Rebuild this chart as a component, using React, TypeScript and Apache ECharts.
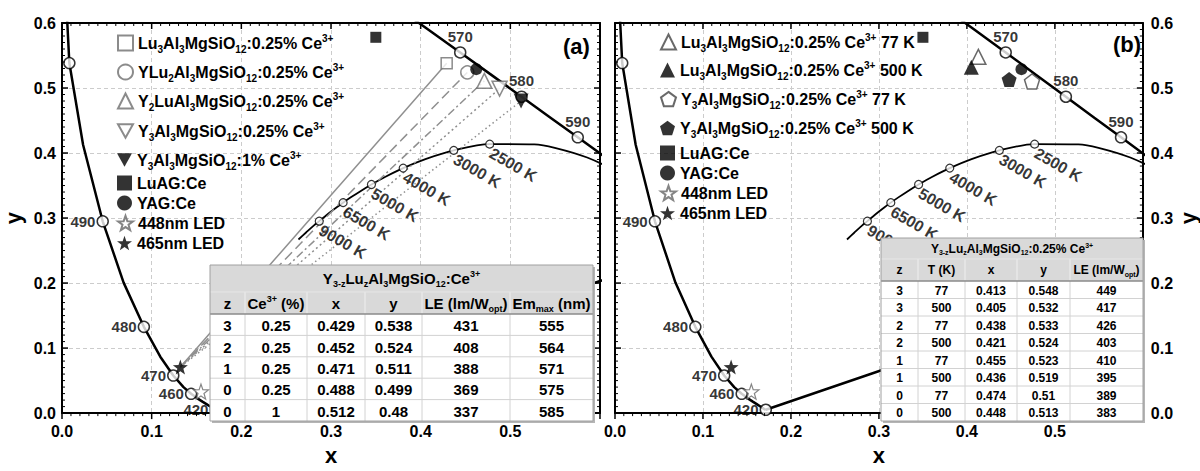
import React, { useEffect, useRef } from "react";
import * as echarts from "echarts";

const FONT = '"Liberation Sans", Arial, Helvetica, sans-serif';

// CIE 1931 spectral locus
const locusWavelength = [420,425,430,435,440,445,450,455,460,465,470,475,480,485,490,495,500,505,510,515,520,525,530,535,540,545,550,555,560,565,570,575,580,585,590,595,600,610,620,700];
const locusX = [0.1714,0.1703,0.1689,0.1669,0.1644,0.1611,0.1566,0.1510,0.1440,0.1355,0.1241,0.1096,0.0913,0.0687,0.0454,0.0235,0.0082,0.0039,0.0139,0.0389,0.0743,0.1142,0.1547,0.1929,0.2296,0.2658,0.3016,0.3373,0.3731,0.4087,0.4441,0.4788,0.5125,0.5448,0.5752,0.6029,0.6270,0.6658,0.6915,0.7347];
const locusY = [0.0051,0.0058,0.0069,0.0086,0.0109,0.0138,0.0177,0.0227,0.0297,0.0399,0.0578,0.0868,0.1327,0.2007,0.2950,0.4127,0.5384,0.6548,0.7502,0.8120,0.8338,0.8262,0.8059,0.7816,0.7543,0.7243,0.6923,0.6589,0.6245,0.5896,0.5547,0.5202,0.4866,0.4544,0.4242,0.3965,0.3725,0.3340,0.3083,0.2653];
const markLeftWl = [420, 460, 470, 480, 490];
const markPlainWl = [500];
const markTopWl = [570, 580, 590];

// Planckian locus
const planckT = [15000,12000,10000,9000,8000,7000,6500,6000,5500,5000,4500,4000,3500,3000,2500,2000,1800,1500,1200,1000];
const planckX = [0.2637,0.2719,0.2807,0.2869,0.2952,0.3064,0.3135,0.3221,0.3324,0.3451,0.3608,0.3805,0.4053,0.4369,0.4770,0.5267,0.5496,0.5857,0.6251,0.6528];
const planckY = [0.2670,0.2774,0.2884,0.2952,0.3048,0.3166,0.3237,0.3318,0.3410,0.3516,0.3636,0.3768,0.3907,0.4041,0.4137,0.4133,0.4081,0.3931,0.3674,0.3444];
const planckLabeled = [9000, 6500, 5000, 4000, 3000, 2500];

// Table (a)
const tableA_z = [3, 2, 1, 0, 0];
const tableA_ce = ["0.25", "0.25", "0.25", "0.25", "1"];
const tableA_x = [0.429, 0.452, 0.471, 0.488, 0.512];
const tableA_y = [0.538, 0.524, 0.511, 0.499, 0.48];
const tableA_le = [431, 408, 388, 369, 337];
const tableA_em = [555, 564, 571, 575, 585];

// Table (b)
const tableB_z = [3, 3, 2, 2, 1, 1, 0, 0];
const tableB_T = [77, 500, 77, 500, 77, 500, 77, 500];
const tableB_x = [0.413, 0.405, 0.438, 0.421, 0.455, 0.436, 0.474, 0.448];
const tableB_y = [0.548, 0.532, 0.533, 0.524, 0.523, 0.519, 0.51, 0.513];
const tableB_le = [449, 417, 426, 403, 410, 395, 389, 383];

// Reference points
const luagCe = [0.35, 0.578];
const yagCe = [0.462, 0.529];
const led448 = [0.155, 0.033];
const led465 = [0.132, 0.071];

// Axis ticks (major every 0.1, minor every 0.01)
const tickValues = Array.from({ length: 61 }, (_, i) => i / 100);

const GRIDS = [
  { left: 62, top: 23, width: 538, height: 403 },
  { left: 615, top: 23, width: 539, height: 402 },
];

const seriesNamesA = [
  "Lu3Al3MgSiO12:0.25% Ce3+",
  "YLu2Al3MgSiO12:0.25% Ce3+",
  "Y2LuAl3MgSiO12:0.25% Ce3+",
  "Y3Al3MgSiO12:0.25% Ce3+",
  "Y3Al3MgSiO12:1% Ce3+",
];
const seriesNamesB = [
  "Lu3Al3MgSiO12:0.25% Ce3+ 77 K",
  "Lu3Al3MgSiO12:0.25% Ce3+ 500 K",
  "Y3Al3MgSiO12:0.25% Ce3+ 77 K",
  "Y3Al3MgSiO12:0.25% Ce3+ 500 K",
];

const RICH: Record<string, string> = {
  "Lu3Al3MgSiO12:0.25% Ce3+": "Lu{s|3}Al{s|3}MgSiO{s|12}:0.25% Ce{p|3+}",
  "YLu2Al3MgSiO12:0.25% Ce3+": "YLu{s|2}Al{s|3}MgSiO{s|12}:0.25% Ce{p|3+}",
  "Y2LuAl3MgSiO12:0.25% Ce3+": "Y{s|2}LuAl{s|3}MgSiO{s|12}:0.25% Ce{p|3+}",
  "Y3Al3MgSiO12:0.25% Ce3+": "Y{s|3}Al{s|3}MgSiO{s|12}:0.25% Ce{p|3+}",
  "Y3Al3MgSiO12:1% Ce3+": "Y{s|3}Al{s|3}MgSiO{s|12}:1% Ce{p|3+}",
  "Lu3Al3MgSiO12:0.25% Ce3+ 77 K": "Lu{s|3}Al{s|3}MgSiO{s|12}:0.25% Ce{p|3+} 77 K",
  "Lu3Al3MgSiO12:0.25% Ce3+ 500 K": "Lu{s|3}Al{s|3}MgSiO{s|12}:0.25% Ce{p|3+} 500 K",
  "Y3Al3MgSiO12:0.25% Ce3+ 77 K": "Y{s|3}Al{s|3}MgSiO{s|12}:0.25% Ce{p|3+} 77 K",
  "Y3Al3MgSiO12:0.25% Ce3+ 500 K": "Y{s|3}Al{s|3}MgSiO{s|12}:0.25% Ce{p|3+} 500 K",
};

const legendRowsA = [43, 72, 101, 131, 160, 183, 203, 223, 243];
const legendRowsB = [42, 70, 99, 128, 153, 173, 193, 213];

const STAR = "path://M0,-10 L2.35,-3.24 L9.51,-3.09 L3.8,1.24 L5.88,8.09 L0,4.2 L-5.88,8.09 L-3.8,1.24 L-9.51,-3.09 L-2.35,-3.24 Z";
const PENTA = "path://M0,-10 L9.51,-3.09 L5.88,8.09 L-5.88,8.09 L-9.51,-3.09 Z";
const INVTRI = "path://M-10,-9 L10,-9 L0,9 Z";

function legendRich(fs: number) {
  return {
    s: { fontSize: Math.round(fs * 0.62), fontWeight: "bold", fontFamily: FONT, color: "#000", padding: [Math.round(fs * 0.75), 0, 0, 0] },
    p: { fontSize: Math.round(fs * 0.62), fontWeight: "bold", fontFamily: FONT, color: "#000", padding: [0, 0, Math.round(fs * 0.65), 0] },
  };
}
function gRich(fs: number) {
  return {
    s: { fontSize: Math.round(fs * 0.62), fontWeight: "bold", fontFamily: FONT, fill: "#000", padding: [Math.round(fs * 0.7), 0, 0, 0] },
    p: { fontSize: Math.round(fs * 0.62), fontWeight: "bold", fontFamily: FONT, fill: "#000", padding: [0, 0, Math.round(fs * 0.6), 0] },
  };
}

function axis(kind: "x" | "y", grid: number, position: string, labeled: boolean, name: string, nameGap: number, margin: number) {
  return {
    type: "value",
    gridIndex: grid,
    position,
    min: 0,
    max: 0.6,
    interval: 0.1,
    name,
    nameLocation: "middle",
    nameGap,
    nameRotate: kind === "y" ? 90 : 0,
    nameTextStyle: { fontFamily: FONT, fontWeight: "bold", fontSize: 22, color: "#000" },
    axisLine: { show: true, onZero: false, lineStyle: { color: "#000", width: 2 } },
    axisTick: { show: false },
    minorTick: { show: false },
    axisLabel: {
      show: labeled,
      margin,
      fontFamily: FONT,
      fontWeight: "bold",
      fontSize: 16,
      color: "#000",
      formatter: (v: number) => (kind === "x" && v > 0.55 ? "" : v.toFixed(1)),
    },
    splitLine: { show: labeled, lineStyle: { color: "#cccccc", type: [4, 3], width: 1 } },
  };
}

function locusPairs() {
  const d = locusX.map((x, i) => [x, locusY[i]]);
  d.push([locusX[0], locusY[0]]);
  return d;
}
function wlPoints(list: number[]) {
  return list.map((w) => {
    const i = locusWavelength.indexOf(w);
    return { name: String(w), value: [locusX[i], locusY[i]] };
  });
}

function commonSeries(xi: number, yi: number) {
  const markerStyle = { color: "#fff", borderColor: "#000", borderWidth: 1.5 };
  const wlLabel = { show: true, fontFamily: FONT, fontWeight: "bold", fontSize: 15, color: "#000", formatter: "{b}" };
  return [
    {
      type: "line", xAxisIndex: xi, yAxisIndex: yi, data: locusPairs(), symbol: "none", silent: true, z: 3,
      lineStyle: { color: "#000", width: 2.5 }, clip: true,
    },
    {
      type: "line", xAxisIndex: xi, yAxisIndex: yi, data: planckX.map((x, i) => [x, planckY[i]]), symbol: "none",
      smooth: 0.3, silent: true, z: 3, lineStyle: { color: "#000", width: 1.8 }, clip: true,
    },
    {
      type: "scatter", xAxisIndex: xi, yAxisIndex: yi, data: wlPoints(markLeftWl), symbol: "circle", symbolSize: 11,
      itemStyle: markerStyle, z: 4, silent: true,
      label: { ...wlLabel, position: "left", distance: 1 },
    },
    {
      type: "scatter", xAxisIndex: xi, yAxisIndex: yi, data: wlPoints(markPlainWl), symbol: "circle", symbolSize: 11,
      itemStyle: markerStyle, z: 4, silent: true,
    },
    {
      type: "scatter", xAxisIndex: xi, yAxisIndex: yi, data: wlPoints(markTopWl), symbol: "circle", symbolSize: 11,
      itemStyle: markerStyle, z: 4, silent: true,
      label: { ...wlLabel, position: "top", distance: 2 },
    },
    {
      type: "scatter", xAxisIndex: xi, yAxisIndex: yi, silent: true, z: 4,
      data: planckLabeled.map((t) => {
        const i = planckT.indexOf(t);
        return { name: `${t} K`, value: [planckX[i], planckY[i]] };
      }),
      symbol: "circle", symbolSize: 8, itemStyle: { color: "#fff", borderColor: "#000", borderWidth: 1.2 },
      label: {
        show: true, position: "right", distance: 1, rotate: -30, offset: [0, 9], formatter: "{b}",
        fontFamily: FONT, fontWeight: "bold", fontSize: 16, color: "#000",
      },
    },
  ];
}

function refSeries(xi: number, yi: number) {
  return [
    { name: "LuAG:Ce", type: "scatter", xAxisIndex: xi, yAxisIndex: yi, data: [luagCe], symbol: "rect", symbolSize: 11, itemStyle: { color: "#000" }, z: 6 },
    { name: "YAG:Ce", type: "scatter", xAxisIndex: xi, yAxisIndex: yi, data: [yagCe], symbol: "circle", symbolSize: 12, itemStyle: { color: "#000" }, z: 6 },
    { name: "448nm LED", type: "scatter", xAxisIndex: xi, yAxisIndex: yi, data: [led448], symbol: STAR, symbolSize: 15, itemStyle: { color: "#fff", borderColor: "#666", borderWidth: 1.2 }, z: 6 },
    { name: "465nm LED", type: "scatter", xAxisIndex: xi, yAxisIndex: yi, data: [led465], symbol: STAR, symbolSize: 15, itemStyle: { color: "#000" }, z: 6 },
  ];
}

function tableEls(cols: number[], yTop: number, yHead: number, yBody: number, rowH: number, title: string, headers: string[], rows: string[][], fs: number, titleFs: number) {
  const els: any[] = [];
  const x0 = cols[0];
  const x1 = cols[cols.length - 1];
  const yEnd = yBody + rowH * rows.length;
  const ln = (a: number, b: number, c: number, d: number, stroke: string, w = 1, z = 103) => ({
    type: "line", z, silent: true, shape: { x1: a, y1: b, x2: c, y2: d }, style: { stroke, lineWidth: w },
  });
  const tx = (x: number, y: number, text: string, size: number) => ({
    type: "text", z: 110, silent: true, x, y,
    style: { text, fill: "#000", fontSize: size, fontWeight: "bold", fontFamily: FONT, align: "center", verticalAlign: "middle", rich: gRich(size) },
  });
  els.push({ type: "rect", z: 100, silent: true, shape: { x: x0 + 2, y: yTop + 2, width: x1 - x0, height: yEnd - yTop }, style: { fill: "#b5b5b5" } });
  els.push({ type: "rect", z: 101, silent: true, shape: { x: x0, y: yTop, width: x1 - x0, height: yEnd - yTop }, style: { fill: "#fff" } });
  els.push({ type: "rect", z: 102, silent: true, shape: { x: x0, y: yTop, width: x1 - x0, height: yBody - yTop }, style: { fill: "#d9d9d9" } });
  for (let i = 1; i < cols.length - 1; i++) {
    els.push(ln(cols[i], yHead, cols[i], yBody, "#efefef"));
    els.push(ln(cols[i], yBody, cols[i], yEnd, "#d2d2d2"));
  }
  for (let r = 1; r < rows.length; r++) els.push(ln(x0, yBody + r * rowH, x1, yBody + r * rowH, "#d2d2d2"));
  els.push(ln(x0, yHead, x1, yHead, "#e6e6e6"));
  els.push(ln(x0, yBody, x1, yBody, "#8a8a8a", 1.5));
  els.push({ type: "rect", z: 104, silent: true, shape: { x: x0, y: yTop, width: x1 - x0, height: yEnd - yTop }, style: { fill: "none", stroke: "#a0a0a0", lineWidth: 1 } });
  els.push(tx((x0 + x1) / 2, (yTop + yHead) / 2, title, titleFs));
  headers.forEach((h, i) => els.push(tx((cols[i] + cols[i + 1]) / 2, (yHead + yBody) / 2, h, fs)));
  rows.forEach((row, r) => row.forEach((c, i) => els.push(tx((cols[i] + cols[i + 1]) / 2, yBody + (r + 0.5) * rowH + 1, c, fs))));
  return els;
}

function staticGraphics() {
  const rowsA = tableA_z.map((z, i) => [String(z), tableA_ce[i], tableA_x[i].toFixed(3), String(tableA_y[i]), String(tableA_le[i]), String(tableA_em[i])]);
  const rowsB = tableB_z.map((z, i) => [String(z), String(tableB_T[i]), tableB_x[i].toFixed(3), String(tableB_y[i]), String(tableB_le[i])]);
  return [
    ...tableEls([210, 245, 307, 365, 422, 510, 593], 265, 292, 314, 21.4, "Y{s|3-z}Lu{s|z}Al{s|3}MgSiO{s|12}:Ce{p|3+}",
      ["z", "Ce{p|3+} (%)", "x", "y", "LE (lm/W{s|opt})", "Em{s|max} (nm)"], rowsA, 15, 15),
    ...tableEls([881, 918, 965, 1017, 1070, 1143], 238, 259, 281, 17.5, "Y{s|3-z}Lu{s|z}Al{s|3}MgSiO{s|12}:0.25% Ce{p|3+}",
      ["z", "T (K)", "x", "y", "LE (lm/W{s|opt})"], rowsB, 12, 12),
    { type: "text", z: 120, x: 563, y: 46, style: { text: "(a)", fill: "#000", fontSize: 22, fontWeight: "bold", fontFamily: FONT, align: "left", verticalAlign: "middle" } },
    { type: "text", z: 120, x: 1113, y: 44, style: { text: "(b)", fill: "#000", fontSize: 22, fontWeight: "bold", fontFamily: FONT, align: "left", verticalAlign: "middle" } },
  ];
}

// Convert a data point to pixels through the chart's own grid scales (with a linear fallback)
function toPx(chart: any, g: number, x: number, y: number): [number, number] {
  let p: any = null;
  try {
    p = chart.convertToPixel({ gridIndex: g }, [x, y]);
  } catch (e) {
    p = null;
  }
  if (Array.isArray(p) && Number.isFinite(p[0]) && Number.isFinite(p[1])) return [p[0], p[1]];
  const gr = GRIDS[g];
  return [gr.left + (x / 0.6) * gr.width, gr.top + gr.height - (y / 0.6) * gr.height];
}

function tickGraphics(chart: any) {
  const els: any[] = [];
  const ln = (x1: number, y1: number, x2: number, y2: number, major: boolean) => ({
    type: "line", z: 90, silent: true, shape: { x1, y1, x2, y2 }, style: { stroke: "#000", lineWidth: major ? 1.5 : 1 },
  });
  [0, 1].forEach((g) => {
    const [xLeft, yBottom] = toPx(chart, g, 0, 0);
    const [xRight, yTop] = toPx(chart, g, 0.6, 0.6);
    tickValues.forEach((v, i) => {
      const major = i % 10 === 0;
      const len = major ? 6 : 3;
      const [px, py] = toPx(chart, g, v, v);
      els.push(ln(px, yBottom, px, yBottom + len, major)); // bottom: outward
      els.push(ln(px, yTop, px, yTop + len, major)); // top: inward
      els.push(ln(xLeft, py, xLeft + len, py, major)); // left: inward
      els.push(ln(xRight, py, xRight - len, py, major)); // right: inward
    });
  });
  return els;
}

function buildOption() {
  const grayOpen = { color: "#fff", borderColor: "#6e6e6e", borderWidth: 1.5 };
  const darkOpen = { color: "#fff", borderColor: "#444", borderWidth: 1.5 };
  const symA = ["rect", "circle", "triangle", INVTRI, INVTRI];
  const sizeA = [11, 13, 15, 15, 15];
  const styleA = [grayOpen, grayOpen, grayOpen, grayOpen, { color: "#000" }];
  const dashA: any[] = ["solid", [10, 5], [8, 3, 2, 3], [2, 3], [1.5, 3]];

  const seriesA: any[] = [
    ...commonSeries(0, 0),
    ...tableA_x.map((x, i) => ({
      type: "line", xAxisIndex: 0, yAxisIndex: 0, silent: true, symbol: "none", z: 3,
      data: [led465, [x, tableA_y[i]]], lineStyle: { color: "#8f8f8f", width: 1.5, type: dashA[i] },
    })),
    ...tableA_x.map((x, i) => ({
      name: seriesNamesA[i], type: "scatter", xAxisIndex: 0, yAxisIndex: 0, z: 6,
      data: [[x, tableA_y[i]]], symbol: symA[i], symbolSize: sizeA[i], itemStyle: styleA[i],
    })),
    ...refSeries(0, 0),
  ];

  const bIdx = [0, 1, 6, 7];
  const symB = ["triangle", "triangle", PENTA, PENTA];
  const styleB = [darkOpen, { color: "#000" }, darkOpen, { color: "#000" }];
  const seriesB: any[] = [
    ...commonSeries(2, 2),
    ...bIdx.map((k, i) => ({
      name: seriesNamesB[i], type: "scatter", xAxisIndex: 2, yAxisIndex: 2, z: 6,
      data: [[tableB_x[k], tableB_y[k]]], symbol: symB[i], symbolSize: 15, itemStyle: styleB[i],
    })),
    ...refSeries(2, 2),
  ];

  const legendNamesA = [...seriesNamesA, "LuAG:Ce", "YAG:Ce", "448nm LED", "465nm LED"];
  const legendNamesB = [...seriesNamesB, "LuAG:Ce", "YAG:Ce", "448nm LED", "465nm LED"];
  const mkLegend = (name: string, left: number, cy: number) => ({
    data: [name], left, top: cy - 10, padding: 0, itemWidth: 15, itemHeight: 15, selectedMode: false,
    formatter: (n: string) => RICH[n] ?? n,
    textStyle: { fontFamily: FONT, fontWeight: "bold", fontSize: 16, color: "#000", lineHeight: 20, rich: legendRich(16) },
  });
  const legends = [
    ...legendNamesA.map((n, i) => mkLegend(n, 117, legendRowsA[i])),
    ...legendNamesB.map((n, i) => mkLegend(n, 660, legendRowsB[i])),
  ];

  return {
    animation: false,
    backgroundColor: "#fff",
    textStyle: { fontFamily: FONT },
    grid: GRIDS,
    xAxis: [
      axis("x", 0, "bottom", true, "x", 22, 10),
      axis("x", 0, "top", false, "", 0, 0),
      axis("x", 1, "bottom", true, "x", 22, 10),
      axis("x", 1, "top", false, "", 0, 0),
    ],
    yAxis: [
      axis("y", 0, "left", true, "y", 38, 6),
      axis("y", 0, "right", false, "", 0, 0),
      axis("y", 1, "right", true, "y", 32, 8),
      axis("y", 1, "left", false, "", 0, 0),
    ],
    legend: legends,
    series: [...seriesA, ...seriesB],
  };
}

export default function App() {
  const ref = useRef<HTMLDivElement>(null);
  useEffect(() => {
    const chart = echarts.init(ref.current as HTMLDivElement, null, { renderer: "svg" });
    chart.setOption(buildOption() as any);
    const ticks = tickGraphics(chart);
    chart.setOption({ graphic: { elements: [...staticGraphics(), ...ticks] } } as any);
    return () => chart.dispose();
  }, []);
  return <div ref={ref} style={{ position: "absolute", left: 0, top: 0, width: 1200, height: 471, background: "#fff" }} />;
}
